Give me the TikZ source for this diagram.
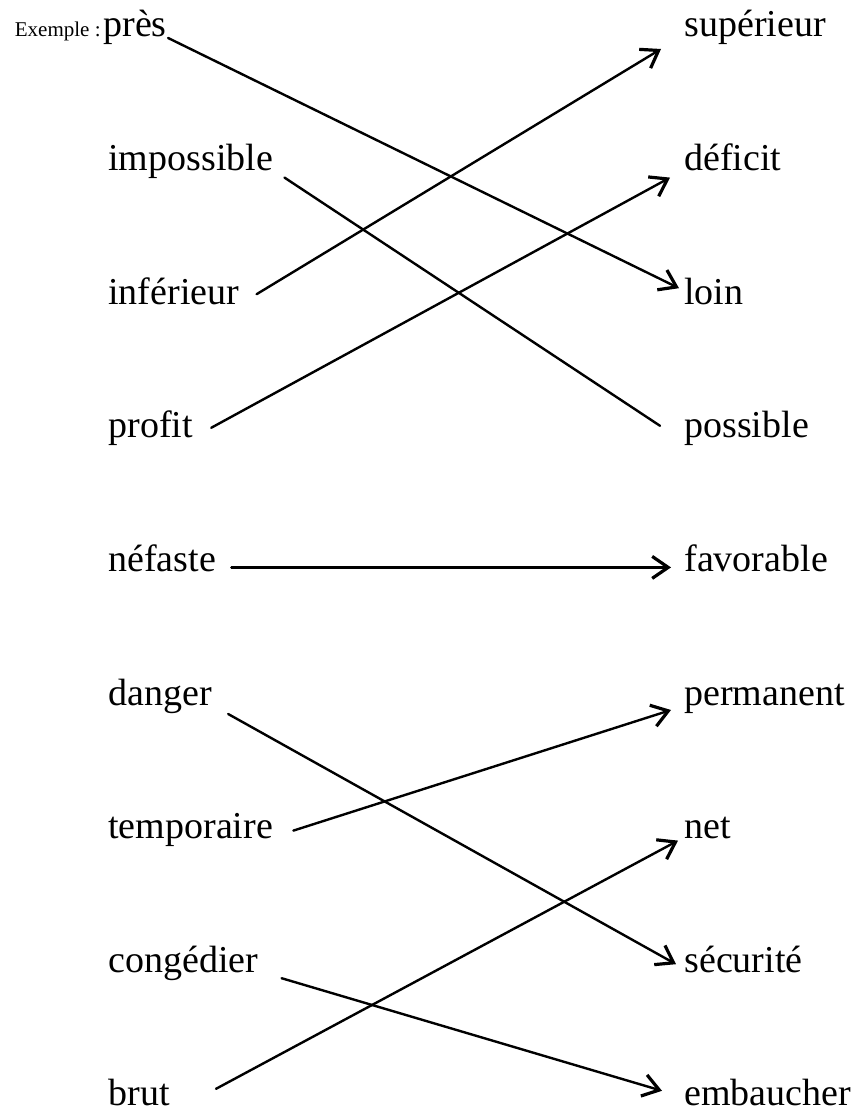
\documentclass[tikz,border=0pt]{standalone}
\usepackage{fontspec}
\setmainfont{Liberation Serif}
\usetikzlibrary{arrows.meta}

\begin{document}
\begin{tikzpicture}[x=0.5pt, y=-0.5pt,
    word/.style={inner sep=0pt, anchor=base west, font=\fontsize{19}{22}\selectfont},
    small/.style={inner sep=0pt, font=\fontsize{10.5}{12}\selectfont},
    link/.style={line width=1.2pt, line cap=round},
    arr/.style={-{Straight Barb[length=8pt, width=11pt, line width=1.6pt]}},
    noarr/.style={}
  ]
  \useasboundingbox (0,0) rectangle (855,1111);
  % left column
  \node[word] (l0) at (103,37) {près};
  \node[small, anchor=base east] (ex) at ([xshift=-1pt]l0.base west) {Exemple :};
  \foreach \w [count=\i] in {impossible, inférieur, profit, néfaste, danger, temporaire, congédier, brut} {
    \node[word] (l\i) at (108, 37+133.6*\i) {\w};
  }
  % right column
  \foreach \w [count=\i from 0] in {supérieur, déficit, loin, possible, favorable, permanent, net, sécurité, embaucher} {
    \node[word] (r\i) at (684, 37+133.6*\i) {\w};
  }
  % links
  \foreach \a/\b/\sx/\sy/\ex/\ey/\tip in {
      0/2/1/1/5/-16/arr,
      1/3/11/7/24/-12/noarr,
      2/0/17/-10/23/12/arr,
      3/1/18/-10/14/7/arr,
      4/4/15/-4/13/-4/arr,
      5/7/16/9/8/-8/arr,
      6/5/20/-8/13/5/arr,
      7/8/23/6/22/-15/arr,
      8/6/46/-17/6/2/arr} {
    \draw[link, \tip] ([shift={(\sx,\sy)}]l\a.base east) -- ([shift={(-\ex,\ey)}]r\b.base west);
  }
\end{tikzpicture}
\end{document}
